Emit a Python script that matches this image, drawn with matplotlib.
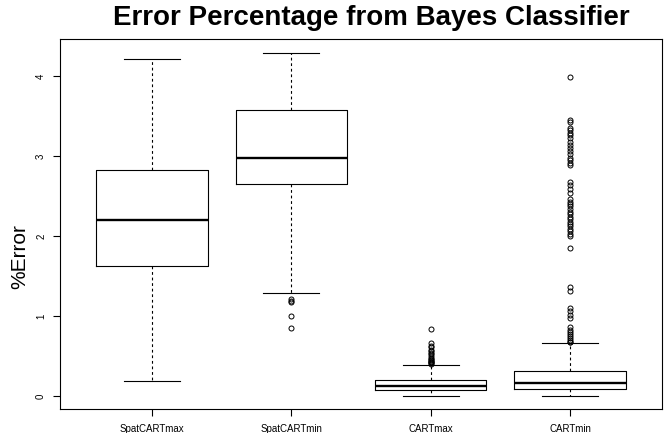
import matplotlib
matplotlib.use("Agg")
import matplotlib.pyplot as plt

plt.rcParams['font.family'] = ['Liberation Sans', 'DejaVu Sans']

# values
names = ["SpatCARTmax", "SpatCARTmin", "CARTmax", "CARTmin"]
q1 = [1.625, 2.65, 0.075, 0.09]
med = [2.2, 2.975, 0.125, 0.16]
q3 = [2.825, 3.575, 0.2, 0.31]
whislo = [0.19, 1.29, 0.0, 0.0]
whishi = [4.21, 4.29, 0.39, 0.66]

fliers_spatmax = []
fliers_spatmin = [1.21, 1.19, 1.17, 1.0, 0.85]
fliers_cartmax = [0.84, 0.66, 0.63, 0.61, 0.58, 0.56, 0.54, 0.52, 0.50,
                  0.48, 0.46, 0.45, 0.44, 0.43, 0.42, 0.41, 0.40]
fliers_cartmin = [3.99, 3.45, 3.43, 3.35, 3.32, 3.29, 3.26, 3.22, 3.18,
                  3.14, 3.10, 3.06, 3.02, 2.98, 2.95, 2.91, 2.89,
                  2.68, 2.64, 2.59, 2.54, 2.46, 2.43, 2.40, 2.37, 2.34,
                  2.30, 2.27, 2.24, 2.21, 2.18, 2.15, 2.12, 2.09, 2.06,
                  2.02, 2.00, 1.85, 1.36, 1.31, 1.10, 1.06, 1.01, 0.98,
                  0.86, 0.83, 0.80, 0.78, 0.75, 0.72, 0.70, 0.68, 0.67]
fliers = [fliers_spatmax, fliers_spatmin, fliers_cartmax, fliers_cartmin]

stats = []
for i in range(len(names)):
    stats.append(dict(label=names[i], q1=q1[i], med=med[i], q3=q3[i],
                      whislo=whislo[i], whishi=whishi[i], fliers=fliers[i]))

fig = plt.figure(figsize=(6.66, 4.33), dpi=100)
ax = fig.add_axes([60/666, 24/433, 602/666, 370/433])

ax.bxp(stats, positions=[1, 2, 3, 4], widths=0.8,
       boxprops=dict(color='black', linewidth=0.8),
       medianprops=dict(color='black', linewidth=1.7, solid_capstyle='butt'),
       whiskerprops=dict(color='black', linewidth=0.8, linestyle=(0, (2.5, 2.5))),
       capprops=dict(color='black', linewidth=0.8),
       flierprops=dict(marker='o', markerfacecolor='none', markeredgecolor='black',
                       markersize=3.6, markeredgewidth=0.7),
       capwidths=0.4)

ax.set_xlim(0.34, 4.66)
ax.set_ylim(-0.1625, 4.4625)
ax.set_yticks([0, 1, 2, 3, 4])
ax.set_yticklabels(["0", "1", "2", "3", "4"], rotation=90, va='center')
ax.tick_params(axis='y', labelsize=7, length=5, width=0.8, pad=5)
ax.tick_params(axis='x', labelsize=7, length=5, width=0.8, pad=6)
for s in ax.spines.values():
    s.set_linewidth(0.8)
    s.set_color('black')

fig.text(371/666, 1 - 18/433, "Error Percentage from Bayes Classifier",
         ha='center', va='center', fontsize=20, fontweight='bold')
fig.text(20/666, 1 - 257/433, "%Error", rotation=90,
         ha='center', va='center', fontsize=15)

fig.savefig("out.png", dpi=100)
